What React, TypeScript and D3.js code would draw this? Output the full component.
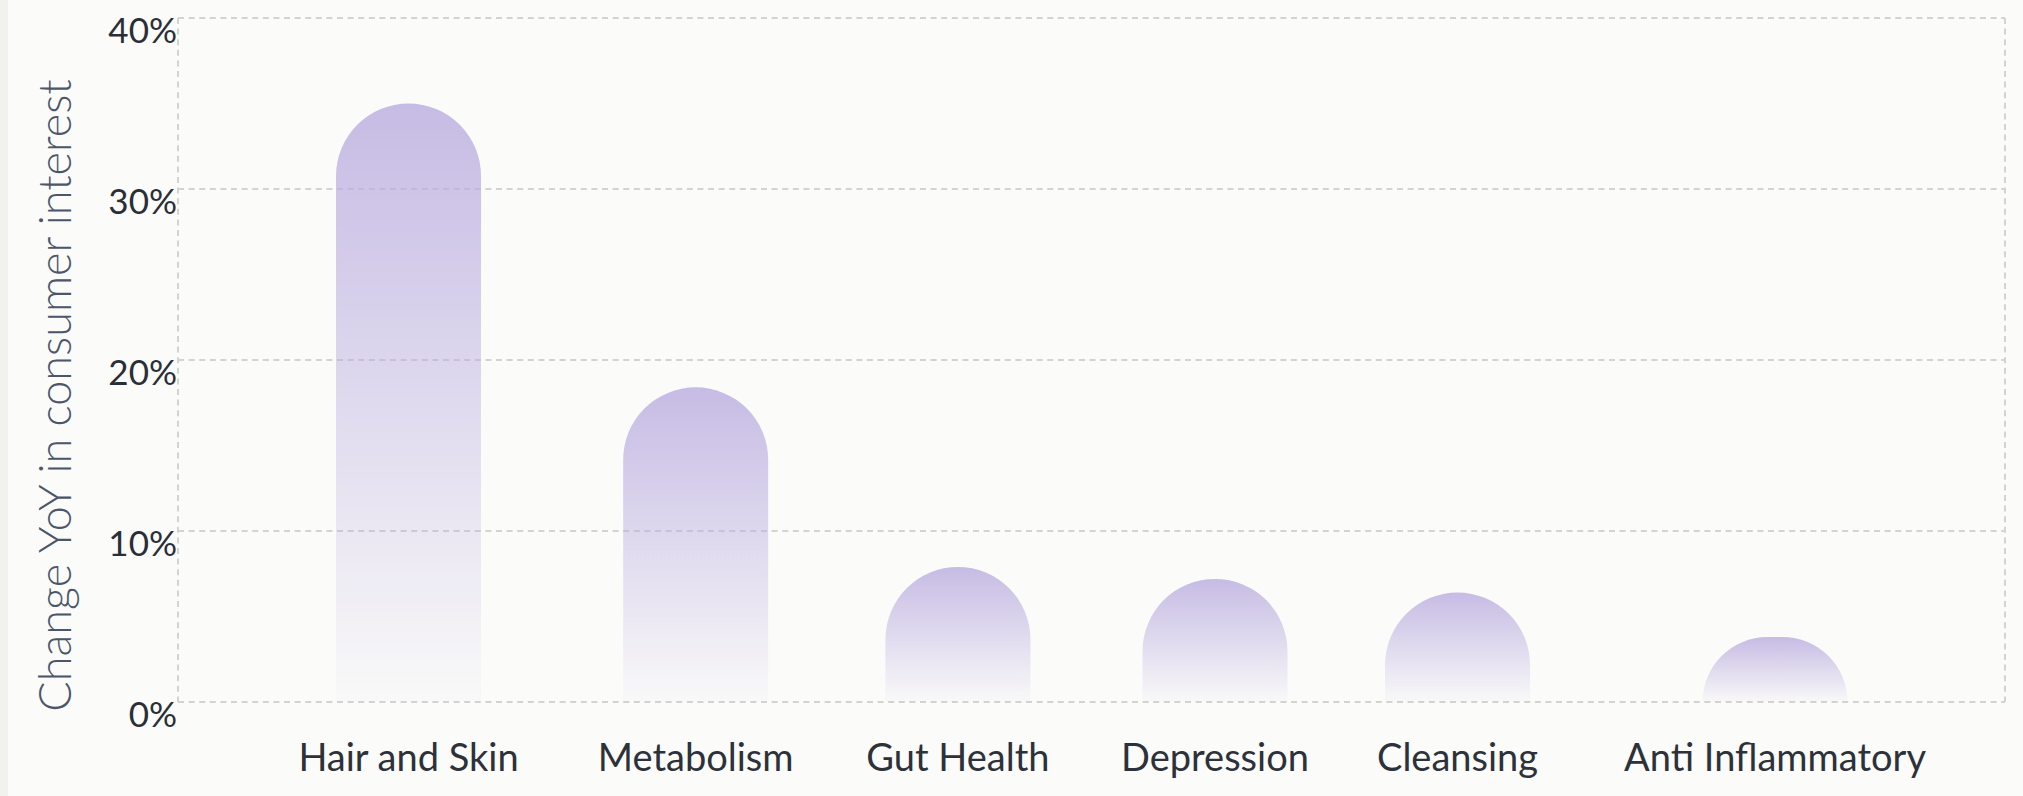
import { useMemo } from "react";
import { scaleLinear, scaleOrdinal } from "d3";

const categories = [
  "Hair and Skin",
  "Metabolism",
  "Gut Health",
  "Depression",
  "Cleansing",
  "Anti Inflammatory",
];
const changeYoY = [35.0, 18.4, 7.9, 7.2, 6.4, 3.8];
const yTicks = [0, 10, 20, 30, 40];
const yTickLabels = ["0%", "10%", "20%", "30%", "40%"];
const yAxisTitle = "Change YoY in consumer interest";

const WIDTH = 2023;
const HEIGHT = 796;
const plot = { left: 178, right: 2005, top: 18, bottom: 702 };
const labelRow = { left: 298, right: 1926, baseline: 771 };
const barWidth = 145;
const FONT = "Lato, 'Open Sans', sans-serif";
const labelSize = 38;
const colPad = 10;

const measure = (text: string, font: string) => {
  const ctx = document.createElement("canvas").getContext("2d");
  if (!ctx) return text.length * 18;
  ctx.font = font;
  return ctx.measureText(text).width;
};

// rounded-top bar, radius clamped like css border-radius: 9999px
const barPath = (x0: number, x1: number, yTop: number, yBase: number) => {
  const r = Math.min((x1 - x0) / 2, yBase - yTop);
  return `M${x0},${yBase}V${yTop + r}A${r},${r} 0 0 1 ${x0 + r},${yTop}H${x1 - r}A${r},${r} 0 0 1 ${x1},${yTop + r}V${yBase}Z`;
};

export default function App() {
  const yScale = scaleLinear().domain([0, 40]).range([plot.bottom, plot.top]);

  // columns sized by their label width, stretched so the labels fill the row
  const centers = useMemo(() => {
    const widths = categories.map((c) => measure(c, `${labelSize}px Lato`));
    const units: number[] = [];
    let acc = 0;
    widths.forEach((w, i) => {
      if (i > 0) acc += (widths[i - 1] + w) / 2 + colPad;
      units.push(acc);
    });
    const toPx = scaleLinear()
      .domain([0, acc])
      .range([labelRow.left + widths[0] / 2, labelRow.right - widths[widths.length - 1] / 2]);
    return units.map((u) => toPx(u));
  }, []);

  const xScale = scaleOrdinal<string, number>().domain(categories).range(centers);

  const dash = { stroke: "#d3d3cf", strokeWidth: 2, strokeDasharray: "6 4.6" };

  return (
    <svg
      width={WIDTH}
      height={HEIGHT}
      style={{ position: "absolute", left: 0, top: 0, display: "block" }}
      fontFamily={FONT}
    >
      <defs>
        <linearGradient id="barFill" x1="0" y1="0" x2="0" y2="1">
          <stop offset="0%" stopColor="#b9acdf" stopOpacity={0.8} />
          <stop offset="55%" stopColor="#b9acdf" stopOpacity={0.38} />
          <stop offset="100%" stopColor="#b9acdf" stopOpacity={0.03} />
        </linearGradient>
      </defs>

      <rect x={0} y={0} width={WIDTH} height={HEIGHT} fill="#fbfbf9" />
      <rect x={0} y={0} width={8} height={HEIGHT} fill="#f1f1ee" />

      {yTicks.map((t) => (
        <line
          key={`grid-${t}`}
          x1={plot.left}
          x2={plot.right}
          y1={yScale(t)}
          y2={yScale(t)}
          {...dash}
        />
      ))}
      <line x1={plot.left} x2={plot.left} y1={yScale(40)} y2={yScale(0)} {...dash} />
      <line x1={plot.right} x2={plot.right} y1={yScale(40)} y2={yScale(0)} {...dash} />

      {categories.map((c, i) => {
        const cx = xScale(c);
        return (
          <path
            key={`bar-${c}`}
            d={barPath(cx - barWidth / 2, cx + barWidth / 2, yScale(changeYoY[i]), yScale(0))}
            fill="url(#barFill)"
          />
        );
      })}

      {yTicks.map((t, i) => (
        <text
          key={`tick-${t}`}
          x={plot.left - 1}
          y={yScale(t) + 25}
          textAnchor="end"
          fontSize={35}
          fill="#2a2e37"
        >
          {yTickLabels[i]}
        </text>
      ))}

      {categories.map((c) => (
        <text
          key={`label-${c}`}
          x={xScale(c)}
          y={labelRow.baseline}
          textAnchor="middle"
          fontSize={labelSize}
          fill="#2d313a"
        >
          {c}
        </text>
      ))}

      <text
        transform={`translate(70.5,${(83 + 708) / 2}) rotate(-90)`}
        textAnchor="middle"
        fontSize={45}
        fontWeight={300}
        fill="#4b566b"
      >
        {yAxisTitle}
      </text>
    </svg>
  );
}
